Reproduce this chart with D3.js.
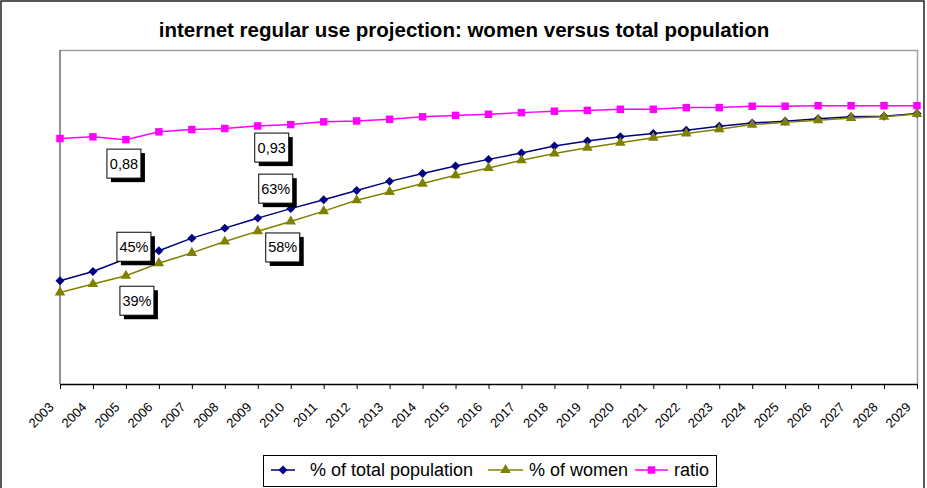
<!DOCTYPE html>
<html>
<head>
<meta charset="utf-8">
<script src="https://cdn.jsdelivr.net/npm/d3@7"></script>
<style>
  body { margin: 0; background: #fff; }
  svg { display: block; font-family: "Liberation Sans", Arial, sans-serif; }
</style>
</head>
<body>
<div id="chart"></div>
<script>
// years on the x axis
var years = [2003, 2004, 2005, 2006, 2007, 2008, 2009, 2010, 2011, 2012, 2013, 2014, 2015,
             2016, 2017, 2018, 2019, 2020, 2021, 2022, 2023, 2024, 2025, 2026, 2027, 2028, 2029];

// % of total population
var totalPct = [0.371, 0.404, 0.45, 0.479, 0.524, 0.56, 0.596, 0.63, 0.662, 0.695, 0.728, 0.756, 0.783,
                0.807, 0.83, 0.855, 0.873, 0.888, 0.9, 0.912, 0.926, 0.938, 0.944, 0.953, 0.96, 0.962, 0.972];

// % of women
var womenPct = [0.329, 0.359, 0.389, 0.434, 0.471, 0.512, 0.549, 0.584, 0.621, 0.66, 0.69, 0.72, 0.75,
                0.776, 0.804, 0.828, 0.849, 0.867, 0.885, 0.9, 0.915, 0.932, 0.94, 0.948, 0.956, 0.96, 0.97];

// ratio women / total
var ratio = [0.882, 0.888, 0.878, 0.906, 0.914, 0.918, 0.927, 0.932, 0.942, 0.945, 0.951, 0.96, 0.965,
             0.969, 0.975, 0.98, 0.983, 0.987, 0.987, 0.993, 0.993, 0.998, 0.998, 1.0, 1.0, 1.0, 1.0];

var seriesNames = ["% of total population", "% of women", "ratio"];

// points that carry a data label
var labelled = [
  {series: 2, year: 2005}, {series: 2, year: 2010},
  {series: 0, year: 2005}, {series: 0, year: 2010},
  {series: 1, year: 2005}, {series: 1, year: 2010}
];

var width = 927, height = 488;
var plot = {left: 60, right: 917, top: 50, bottom: 384};

var svg = d3.select("#chart").append("svg")
    .attr("width", width)
    .attr("height", height);

svg.append("rect")
    .attr("x", 1).attr("y", 1)
    .attr("width", 923).attr("height", 492)
    .attr("fill", "#fff")
    .attr("stroke", "#222")
    .attr("stroke-width", 1.5);

svg.append("text")
    .attr("x", 464).attr("y", 37)
    .attr("text-anchor", "middle")
    .style("font-size", "20.5px")
    .style("font-weight", "bold")
    .text("internet regular use projection: women versus total population");

var x = d3.scalePoint()
    .domain(years)
    .range([plot.left, plot.right]);

var y = d3.scaleLinear()
    .domain([0, 1.2])
    .range([plot.bottom, plot.top]);

// plot frame: grey top and right, darker left, black bottom axis
svg.append("path")
    .attr("d", "M" + plot.left + "," + (plot.top + 0.5) + "H" + (plot.right + 0.5) + "V" + plot.bottom)
    .attr("fill", "none")
    .attr("stroke", "#a0a0a0")
    .attr("stroke-width", 1.5);
svg.append("line")
    .attr("x1", plot.left).attr("x2", plot.left)
    .attr("y1", plot.top).attr("y2", plot.bottom)
    .attr("stroke", "#6e6e6e")
    .attr("stroke-width", 1.5);

var xAxis = svg.append("g")
    .attr("transform", "translate(0," + plot.bottom + ")")
    .call(d3.axisBottom(x).tickSize(5).tickSizeOuter(0));
xAxis.select(".domain").attr("stroke", "#000").attr("stroke-width", 1.5);
xAxis.selectAll(".tick line").attr("stroke", "#000");
xAxis.selectAll(".tick text")
    .attr("x", 0).attr("y", 0).attr("dy", 0)
    .attr("text-anchor", "end")
    .attr("transform", "translate(-6,24) rotate(-45)")
    .attr("fill", "#000")
    .style("font-size", "13px")
    .style("font-family", "'Liberation Sans', Arial, sans-serif");

var colors = ["#000080", "#808000", "#ff00ff"];
var symbols = [
  d3.symbol().type(d3.symbolSquare).size(40),
  d3.symbol().type(d3.symbolTriangle).size(48),
  d3.symbol().type(d3.symbolSquare).size(56)
];
var rotations = [45, 0, 0];
var allSeries = [totalPct, womenPct, ratio];

var line = d3.line()
    .x(function(d, i) { return x(years[i]); })
    .y(function(d) { return y(d); });

// ratio first, then total, then women on top
[2, 0, 1].forEach(function(s) {
  var g = svg.append("g");
  g.append("path")
      .datum(allSeries[s])
      .attr("d", line)
      .attr("fill", "none")
      .attr("stroke", colors[s])
      .attr("stroke-width", 1.5);
  g.selectAll("path.mark")
      .data(allSeries[s])
      .enter().append("path")
      .attr("class", "mark")
      .attr("d", symbols[s])
      .attr("fill", colors[s])
      .attr("transform", function(d, i) {
        return "translate(" + x(years[i]) + "," + y(d) + ") rotate(" + rotations[s] + ")";
      });
});

// data labels: boxed with a drop shadow
var fmtRatio = function(v) { return d3.format(".2f")(v).replace(".", ","); };
var fmtPct = d3.format(".0%");
var labelNudge = {
  "2-2005": [-2, 24], "2-2010": [-19, 23],
  "0-2005": [8, -12], "0-2010": [-15, -20],
  "1-2005": [11, 25], "1-2010": [-8, 26]
};
var boxW = 34, boxH = 29;

labelled.forEach(function(l) {
  var i = years.indexOf(l.year);
  var v = allSeries[l.series][i];
  var n = labelNudge[l.series + "-" + l.year];
  var cx = x(l.year) + n[0], cy = y(v) + n[1];
  var g = svg.append("g").attr("transform", "translate(" + cx + "," + cy + ")");
  g.append("rect")
      .attr("x", -boxW / 2 + 4).attr("y", -boxH / 2 + 4)
      .attr("width", boxW).attr("height", boxH)
      .attr("fill", "#000");
  g.append("rect")
      .attr("x", -boxW / 2).attr("y", -boxH / 2)
      .attr("width", boxW).attr("height", boxH)
      .attr("fill", "#fff")
      .attr("stroke", "#000")
      .attr("stroke-width", 1);
  g.append("text")
      .attr("text-anchor", "middle")
      .attr("y", 5)
      .style("font-size", "14.5px")
      .text(l.series == 2 ? fmtRatio(v) : fmtPct(v));
});

// legend
var legend = svg.append("g");
legend.append("rect")
    .attr("x", 263.5).attr("y", 455.5)
    .attr("width", 453).attr("height", 31)
    .attr("fill", "#fff")
    .attr("stroke", "#000");

var legendX = [[271, 295, 310], [488, 523, 529], [635, 668, 674]];
seriesNames.forEach(function(name, s) {
  var lx = legendX[s];
  var ly = 470;
  legend.append("line")
      .attr("x1", lx[0]).attr("x2", lx[1])
      .attr("y1", ly).attr("y2", ly)
      .attr("stroke", colors[s])
      .attr("stroke-width", 1.5);
  legend.append("path")
      .attr("d", symbols[s])
      .attr("fill", colors[s])
      .attr("transform", "translate(" + ((lx[0] + lx[1]) / 2) + "," + ly + ") rotate(" + rotations[s] + ")");
  legend.append("text")
      .attr("x", lx[2]).attr("y", ly + 6)
      .style("font-size", "18px")
      .text(name);
});
</script>
</body>
</html>
